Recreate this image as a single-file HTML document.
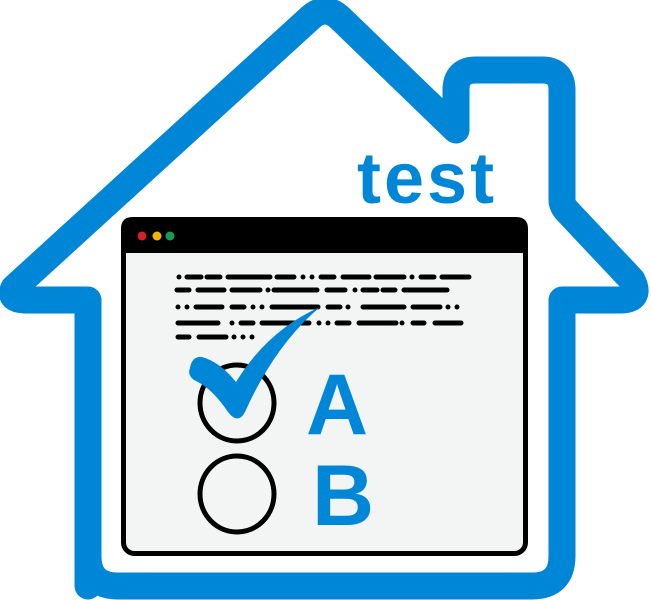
<!DOCTYPE html>
<html><head><meta charset="utf-8"><style>
html,body{margin:0;padding:0;background:#fff;width:651px;height:600px;overflow:hidden}
</style></head><body>
<svg width="651" height="600" viewBox="0 0 651 600" xmlns="http://www.w3.org/2000/svg">
<path d="M88 586 L88 300 L26 300 Q8 300 14 288 L310 18 Q325 4 340 18 L456 130 L456 90 Q456 70 476 70 L542 70 Q562 70 562 90 L562 200 Q562 206 568 212 L632 280 Q642 300 620 300 L562 300 L562 556 Q562 586 532 586 L118 586 Q88 586 88 556 Z" fill="#fff" stroke="#0086d6" stroke-width="27" stroke-linejoin="round"/>
<text x="357" y="203" font-family="Liberation Sans, sans-serif" font-weight="bold" font-size="72" letter-spacing="3" fill="#0086d6">test</text>
<rect x="123.5" y="219.5" width="402" height="334" rx="11" fill="#f3f5f5" stroke="#000" stroke-width="5"/>
<path d="M121 253 L121 229 Q121 217 133 217 L516 217 Q528 217 528 229 L528 253 Z" fill="#000"/>
<circle cx="142" cy="236" r="4.5" fill="#d42027"/>
<circle cx="157" cy="236" r="4.5" fill="#f4b400"/>
<circle cx="170" cy="236" r="4.5" fill="#0f9d58"/>
<g stroke="#000" stroke-width="5" stroke-linecap="round" fill="none">
<path d="M179 277h0M187 277h14M207 277h13M228 277h42M277 277h17M303 277h0M312 277h0M321 277h13M343 277h26M376 277h28M412 277h0M421 277h13M442 277h27"/>
<path d="M177 290h12M198 290h26M232 290h28M268 290h0M274 290h43M327 290h18M355 290h0M363 290h14M383 290h12M404 290h43"/>
<path d="M178 307h0M187 307h0M196 307h26M232 307h12M253 307h0M262 307h0M272 307h46M328 307h12M348 307h0M363 307h41M413 307h27M448 307h0M457 307h0"/>
<path d="M178 323h40M232 323h0M241 323h12M262 323h47M319 323h0M328 323h0M337 323h12M359 323h37M402 323h0M413 323h11M435 323h26"/>
<path d="M178 337h11M199 337h27M234 337h0M243 337h0M252 337h0"/>
</g>
<ellipse cx="237" cy="403" rx="37" ry="38" fill="none" stroke="#000" stroke-width="5"/>
<ellipse cx="237" cy="494" rx="37" ry="38" fill="none" stroke="#000" stroke-width="5"/>
<path d="M190 368 Q192 356 202 357 Q220 362 236 382 Q268 330 320 307 Q275 345 245 412 Q238 425 228 412 Q212 388 194 380 Q187 375 190 368 Z" fill="#0086d6"/>
<text x="306" y="434" font-family="Liberation Sans, sans-serif" font-weight="bold" font-size="86" fill="#0086d6">A</text>
<text x="312" y="525" font-family="Liberation Sans, sans-serif" font-weight="bold" font-size="86" fill="#0086d6">B</text>
</svg>
</body></html>
